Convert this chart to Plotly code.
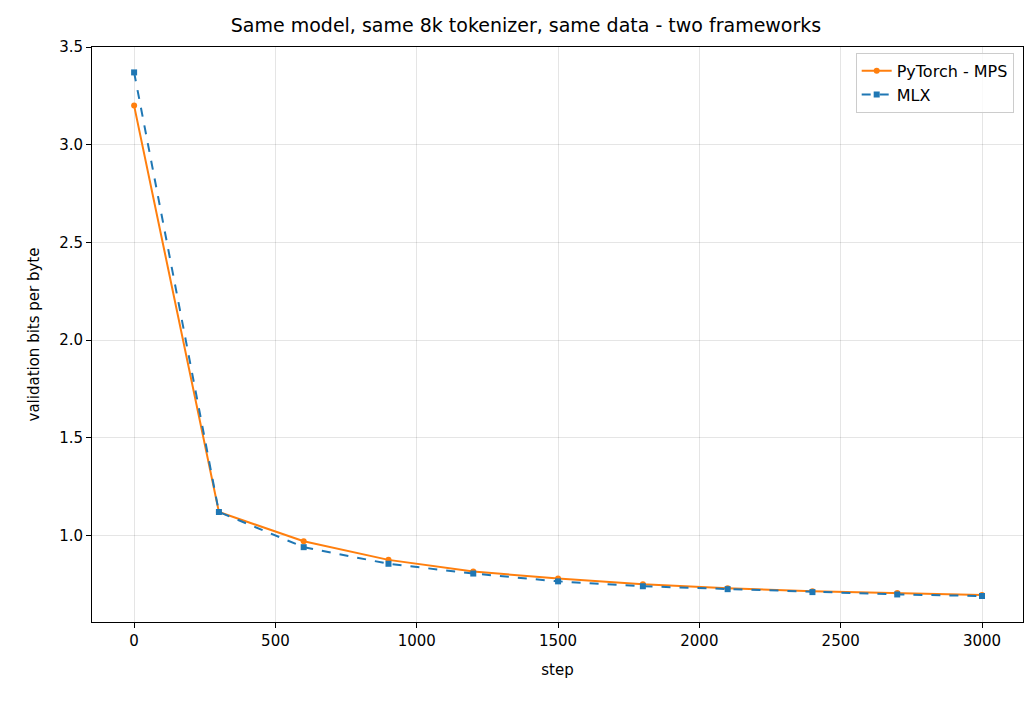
import plotly.graph_objects as go

steps = [0, 300, 600, 900, 1200, 1500, 1800, 2100, 2400, 2700, 3000]
pytorch_bpb = [3.20, 1.12, 0.97, 0.875, 0.815, 0.78, 0.75, 0.73, 0.715, 0.705, 0.695]
mlx_bpb = [3.37, 1.12, 0.94, 0.855, 0.805, 0.765, 0.74, 0.725, 0.71, 0.698, 0.69]

fig = go.Figure()
fig.add_trace(go.Scatter(x=steps, y=pytorch_bpb, name="PyTorch - MPS", mode="lines+markers",
                         line=dict(color="#ff7f0e", width=2), marker=dict(symbol="circle", size=6)))
fig.add_trace(go.Scatter(x=steps, y=mlx_bpb, name="MLX", mode="lines+markers",
                         line=dict(color="#1f77b4", width=2, dash="dash"), marker=dict(symbol="square", size=6)))

ax = dict(showline=True, mirror=True, linecolor="black", linewidth=1, ticks="outside",
          tickcolor="black", showgrid=True, gridcolor="rgba(0,0,0,0.1)", zeroline=False,
          tickfont=dict(size=15, color="black"))
fig.update_layout(
    width=1036, height=703, plot_bgcolor="white", paper_bgcolor="white",
    font=dict(family="DejaVu Sans", color="black"),
    title=dict(text="Same model, same 8k tokenizer, same data - two frameworks", x=0.5, xanchor="center",
               y=0.985, font=dict(size=19)),
    margin=dict(l=84, r=21, t=39, b=89),
    xaxis=dict(ax, range=[-149, 3145], tickvals=[0, 500, 1000, 1500, 2000, 2500, 3000],
               title=dict(text="step", font=dict(size=15))),
    yaxis=dict(ax, range=[0.557, 3.5], tickvals=[1.0, 1.5, 2.0, 2.5, 3.0, 3.5], tickformat=".1f",
               title=dict(text="validation bits per byte", font=dict(size=15))),
    legend=dict(x=0.99, y=0.99, xanchor="right", yanchor="top", bordercolor="#ccc", borderwidth=1,
                bgcolor="rgba(255,255,255,0.8)", font=dict(size=16)),
)
fig.write_html("out.html")
